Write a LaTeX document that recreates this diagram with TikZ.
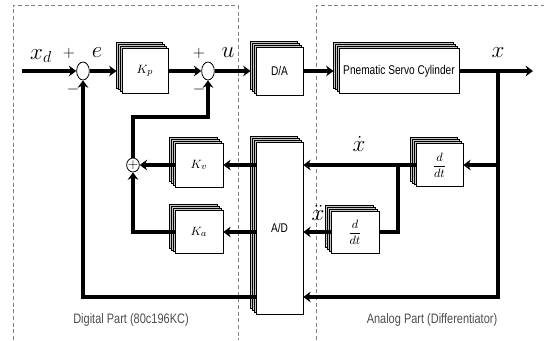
\documentclass[tikz,border=0pt]{standalone}
\usepackage{amsmath}
\usepackage{fontspec}
\usetikzlibrary{shapes.geometric,shadows,arrows.meta}
\newfontfamily\blockfont[FakeStretch=0.8]{Liberation Sans}

\tikzset{
  stack/.style={draw, fill=white, line width=0.5pt, inner sep=0pt,
    font=\blockfont\fontsize{9.5}{10}\selectfont,
    copy shadow={shadow xshift=-3.9pt, shadow yshift=4.2pt, fill=gray!45, draw=black, line width=0.6pt},
    copy shadow={shadow xshift=-2.6pt, shadow yshift=2.8pt, fill=gray!45, draw=black, line width=0.6pt},
    copy shadow={shadow xshift=-1.3pt, shadow yshift=1.4pt, fill=gray!45, draw=black, line width=0.6pt}},
  sum/.style={draw, fill=white, ellipse, line width=0.6pt, inner sep=0pt,
    minimum width=9.5pt, minimum height=13.5pt},
  sig/.style={line width=2.8pt, -{Stealth[length=5.5pt,width=8pt]}},
  wire/.style={line width=2.8pt},
  tostack/.style={shorten >=3.9pt},
  zone/.style={draw=gray, densely dashed, line width=0.5pt},
  var/.style={font=\fontsize{17}{17}\selectfont},
  pm/.style={font=\fontsize{12}{12}\selectfont},
  zonelabel/.style={font=\blockfont\fontsize{10.3}{11}\selectfont, text=black!70}
}

\begin{document}
\begin{tikzpicture}[x=0.75pt, y=-0.75pt]
  \useasboundingbox (0,0) rectangle (544,340);
  % two parts
  \draw[zone] (13,340) -- (13,5) -- (238,5) -- (238,340);
  \draw[zone] (316,340) -- (316,5) -- (544,5);
  \node[zonelabel] (digital) at (131,320) {Digital Part (80c196KC)};
  \node[zonelabel] (analog) at (432,320) {Analog Part (Differentiator)};

  % blocks
  \node[sum] (s1) at (83,71) {};
  \node[stack, minimum width=34.5pt, minimum height=33.8pt] (kp) at (145,71) {$K_p$};
  \node[sum] (s2) at (208,71) {};
  \node[stack, minimum width=35.2pt, minimum height=36pt] (da) at (279.5,71) {D/A};
  \node[stack, minimum width=90pt, minimum height=33.8pt] (cyl) at (399,71) {Pnematic Servo Cylinder};
  \node[stack, minimum width=35.2pt, minimum height=129pt] (ad) at (279.5,228) {A/D};
  \node[stack, minimum width=35.2pt, minimum height=32.5pt] (ddt1) at (439.5,165) {$\dfrac{d}{dt}$};
  \node[stack, minimum width=36pt, minimum height=31.5pt] (ddt2) at (355,232) {$\dfrac{d}{dt}$};
  \node[stack, minimum width=36pt, minimum height=33pt] (kv) at (199,165) {$K_v$};
  \node[stack, minimum width=36pt, minimum height=32.5pt] (ka) at (199,232) {$K_a$};
  \node[sum, minimum width=9.5pt, minimum height=10.5pt] (s3) at (133,165) {};
  \node[font=\fontsize{10}{10}\selectfont, inner sep=0pt] (plus3) at (s3) {$+$};

  % points on the lines
  \coordinate (in) at (22,71);
  \coordinate (out) at (533,71);
  \coordinate (tap) at (498,71);
  \coordinate (tapbot) at (498,297);
  \coordinate (vtap) at (398,165);
  \coordinate (fb) at (208,117);

  % signals
  \draw[sig] (in) -- (s1.west);
  \draw[sig, tostack] (s1.east) -- (kp.west);
  \draw[sig] (kp.east) -- (s2.west);
  \draw[sig, tostack] (s2.east) -- (da.west);
  \draw[sig, tostack] (da.east) -- (cyl.west);
  \draw[sig] (cyl.east) -- (out);
  \draw[sig] (tap) -- (tapbot) -- (tapbot -| ad.east);
  \draw[sig] (ddt1.east -| tap) -- (ddt1.east);
  \draw[sig] (ddt1.west) -- (ad.east |- ddt1.west);
  \draw[wire] (vtap) |- (ddt2.east);
  \draw[sig] (ddt2.west) -- (ad.east |- ddt2.west);
  \draw[sig] (ad.west |- kv.east) -- (kv.east);
  \draw[sig] (ad.west |- ka.east) -- (ka.east);
  \draw[sig] (kv.west) -- (s3.east);
  \draw[sig] (ka.west) -| (s3.south);
  \draw[sig] (s3.north) |- (fb) -- (s2.south);
  \draw[sig] (ad.west |- tapbot) -| (s1.south);

  % labels
  \node[var] (xd) at (41,56) {$x_d$};
  \node[pm] (p1) at (69,53) {$+$};
  \node[pm] (m1) at (73,89) {$-$};
  \node[var] (e) at (97,53) {$e$};
  \node[pm] (p2) at (199,53) {$+$};
  \node[pm] (m2) at (199,89) {$-$};
  \node[var] (u) at (228,53) {$u$};
  \node[var] (x) at (498,53) {$x$};
  \node[var] (xdot) at (359,144) {$\dot{x}$};
  \node[var] (xddot) at (318,213) {$\ddot{x}$};
\end{tikzpicture}
\end{document}
